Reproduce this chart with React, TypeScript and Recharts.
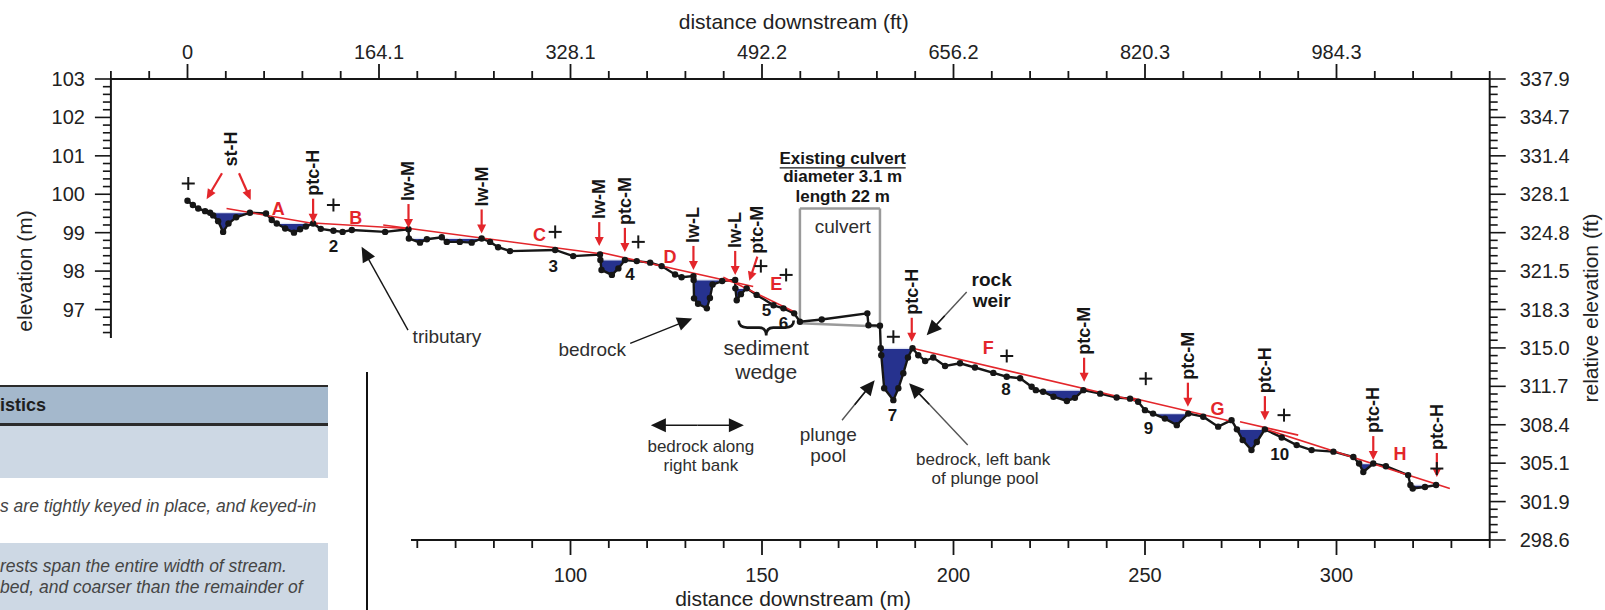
import React from 'react';
import { ComposedChart, XAxis, YAxis, Area, Line, ReferenceLine, ReferenceDot } from 'recharts';

const FONT = '"Liberation Sans", Arial, Helvetica, sans-serif';
const RED = '#e3262b';
const INK = '#161616';
const TXT = '#2e2e2e';

// bed survey points: distance downstream (m) and bed elevation (m)
const profileX = [
  0, 1.4, 2.8, 4.6, 5.9, 6.7, 8.0, 9.3, 10.7, 12.7,
  16.3, 20.5, 22.0, 23.3, 25.5, 27.8, 29.4, 30.9, 32.8, 34.8,
  38.1, 40.5, 42.9, 51.6, 57.7, 57.8, 60.7, 62.5, 66.4, 67.7,
  71.1, 74.2, 76.8, 79.0, 81.1, 84.2, 96.0, 100.7, 107.7, 107.8,
  108.1, 110.8, 112.5, 114.2, 117.3, 120.8, 123.8, 127.3, 129.0, 132.1,
  132.15, 132.25, 133.3, 135.6, 136.4, 137.1, 139.6, 143.0, 143.05, 143.4,
  144.5, 146.0, 148.6, 153.0, 155.6, 158.4, 159.9, 165.6, 177.5, 177.8,
  180.8, 181.0, 181.15, 181.9, 184.3, 185.6, 186.9, 188.1, 189.3, 190.8,
  192.6, 194.7, 197.8, 201.7, 205.6, 210.4, 213.9, 217.4, 220.4, 221.5,
  223.4, 226.1, 229.6, 231.7, 233.9, 238.3, 242.6, 246.1, 248.2, 250.0,
  252.1, 255.2, 258.3, 261.3, 265.2, 269.1, 272.6, 274.0, 275.5, 277.8,
  279.2, 281.3, 285.7, 289.6, 293.5, 299.2, 304.4, 305.9, 307.0, 309.6,
  312.9, 318.7, 319.3, 319.9, 323.1, 326.0,
];
const profileY = [
  99.83, 99.72, 99.63, 99.56, 99.52, 99.45, 99.30, 99.02, 99.24, 99.40,
  99.52, 99.50, 99.33, 99.24, 99.11, 99.00, 99.09, 99.16, 99.24, 99.10,
  99.05, 99.02, 99.07, 99.02, 99.09, 98.85, 98.74, 98.83, 98.88, 98.76,
  98.76, 98.74, 98.85, 98.76, 98.62, 98.52, 98.55, 98.39, 98.43, 98.29,
  98.03, 97.90, 98.07, 98.29, 98.26, 98.22, 98.13, 97.91, 97.84, 97.87,
  97.77, 97.29, 97.15, 97.03, 97.30, 97.65, 97.74, 97.77, 97.55, 97.24,
  97.40, 97.55, 97.38, 97.11, 97.03, 96.90, 96.68, 96.74, 96.90, 96.59,
  96.58, 95.99, 95.81, 94.95, 94.64, 94.95, 95.34, 95.75, 95.99, 95.81,
  95.66, 95.75, 95.53, 95.60, 95.49, 95.35, 95.25, 95.21, 94.99, 94.90,
  94.86, 94.73, 94.62, 94.70, 94.90, 94.81, 94.71, 94.68, 94.60, 94.38,
  94.29, 94.16, 93.99, 94.29, 94.21, 93.95, 94.12, 93.88, 93.60, 93.34,
  93.55, 93.88, 93.67, 93.47, 93.34, 93.30, 93.16, 92.99, 92.77, 92.99,
  92.92, 92.69, 92.43, 92.34, 92.38, 92.43,
];

// residual pools: extent along the profile and water surface (m)
const poolStart = [5.9, 23.3, 57.8, 107.8, 132.15, 143.05, 181.0, 221.5, 252.1, 274.0, 305.9, 319.3];
const poolEnd = [16.3, 32.8, 76.8, 114.2, 143.0, 146.0, 189.3, 233.9, 261.3, 281.3, 309.6, 326.0];
const poolLevel = [99.52, 99.24, 98.85, 98.29, 97.77, 97.55, 95.99, 94.90, 94.29, 93.88, 92.99, 92.43];

// fitted slope segments (red)
const slopeX1 = [10.2, 32.8, 51.1, 107.7, 139.9, 189.3, 246.1, 274.8, 281.3];
const slopeY1 = [99.63, 99.25, 99.2, 98.49, 97.84, 95.99, 94.71, 94.08, 93.89];
const slopeX2 = [34.0, 58.4, 107.9, 147.7, 158.4, 248.7, 272.2, 290.0, 329.6];
const slopeY2 = [99.22, 99.1, 98.45, 97.6, 96.94, 94.6, 94.1, 93.73, 92.34];

const slopeLetter = ['A', 'B', 'C', 'D', 'E', 'F', 'G', 'H'];
const letterX = [23.7, 43.9, 91.9, 126.0, 153.7, 209.1, 268.9, 316.6];
const letterY = [99.61, 99.37, 98.94, 98.37, 97.66, 95.99, 94.4, 93.25];

// grade-control features (red arrows)
const featureLabel = ['ptc-H', 'lw-M', 'lw-M', 'lw-M', 'ptc-M', 'lw-L', 'lw-L', 'ptc-M', 'ptc-H', 'ptc-M', 'ptc-M', 'ptc-H', 'ptc-H', 'ptc-H'];
const featureX = [32.8, 57.7, 76.8, 107.5, 114.2, 132.1, 143.0, 146.7, 189.1, 234.1, 261.2, 281.3, 309.6, 326.2];
const featureY = [99.26, 99.12, 98.98, 98.65, 98.5, 98.03, 97.9, 97.75, 96.16, 95.12, 94.47, 94.12, 93.08, 92.64];
const featureLean = [0, 0, 0, 0, 0, 0, 0, 8, 0, 0, 0, 0, 0, 0];

const poolNumber = ['2', '3', '4', '5', '6', '7', '8', '9', '10'];
const poolNumX = [38.1, 95.5, 115.5, 151.2, 155.6, 184.1, 213.7, 250.9, 285.2];
const poolNumY = [98.65, 98.13, 97.92, 96.98, 96.64, 94.25, 94.92, 93.9, 93.23];

const plusX = [0.2, 38.1, 96.0, 117.7, 149.7, 156.3, 184.3, 213.9, 250.2, 286.3, 326.2];
const plusY = [100.28, 99.72, 99.02, 98.76, 98.13, 97.9, 96.29, 95.79, 95.2, 94.25, 92.86];

const ftDistanceLabels = ['0', '164.1', '328.1', '492.2', '656.2', '820.3', '984.3'];
const ftElevationLabels = ['298.6', '301.9', '305.1', '308.4', '311.7', '315.0', '318.3', '321.5', '324.8', '328.1', '331.4', '334.7', '337.9'];

// culvert outline (m)
const culvertLeft = 159.9;
const culvertRight = 180.8;
const culvertTop = 99.63;
const culvertInvertUp = 96.64;
const culvertInvertDown = 96.56;

const rows = profileX.map((x, i) => {
  const bed = profileY[i];
  const k = poolStart.findIndex((s, j) => x >= s - 1e-9 && x <= poolEnd[j] + 1e-9);
  return { x, bed, pool: k < 0 ? null : [Math.min(bed, poolLevel[k]), poolLevel[k]] };
});

const steps = (a: number, b: number, s: number) => {
  const out: number[] = [];
  for (let v = a; v <= b + 1e-9; v += s) out.push(Math.round(v * 10) / 10);
  return out;
};
const topTicks = steps(-20, 340, 10);
const bottomTicks = steps(60, 340, 10);
const leftTicks = steps(96.4, 103, 0.2);
const rightTicks = steps(91, 103, 0.2);
const isInt = (v: number) => Math.abs(v - Math.round(v)) < 1e-6;

const TopTick = ({ x, y, payload }: any) => {
  const v = payload.value;
  const major = v >= 0 && v <= 300 && v % 50 === 0;
  return (
    <g>
      <line x1={x} x2={x} y1={y} y2={y - (major ? 15 : 8)} stroke={INK} strokeWidth={1.8} />
      {major && (
        <text x={x} y={y - 27} textAnchor="middle" dominantBaseline="central" fontSize={20} fill="#222">
          {ftDistanceLabels[v / 50]}
        </text>
      )}
    </g>
  );
};

const BottomTick = ({ x, y, payload }: any) => {
  const v = payload.value;
  const major = v % 50 === 0;
  return (
    <g>
      <line x1={x} x2={x} y1={y} y2={y + (major ? 15 : 8)} stroke={INK} strokeWidth={1.8} />
      {major && v >= 100 && v <= 300 && (
        <text x={x} y={y + 35} textAnchor="middle" dominantBaseline="central" fontSize={20} fill="#222">
          {v}
        </text>
      )}
    </g>
  );
};

const LeftTick = ({ x, y, payload }: any) => {
  const v = payload.value;
  const major = isInt(v);
  return (
    <g>
      <line x1={x} x2={x - (major ? 16 : 8)} y1={y} y2={y} stroke={INK} strokeWidth={1.6} />
      {major && (
        <text x={x - 26} y={y} textAnchor="end" dominantBaseline="central" fontSize={20} fill="#222">
          {Math.round(v)}
        </text>
      )}
    </g>
  );
};

const RightTick = ({ x, y, payload }: any) => {
  const v = payload.value;
  const major = isInt(v);
  return (
    <g>
      <line x1={x} x2={x + (major ? 16 : 8)} y1={y} y2={y} stroke={INK} strokeWidth={1.6} />
      {major && (
        <text x={x + 30} y={y} textAnchor="start" dominantBaseline="central" fontSize={20} fill="#222">
          {ftElevationLabels[Math.round(v) - 91]}
        </text>
      )}
    </g>
  );
};

function Arrow({ x1, y1, x2, y2, color, width, len, half }: any) {
  const dx = x2 - x1;
  const dy = y2 - y1;
  const d = Math.hypot(dx, dy) || 1;
  const ux = dx / d;
  const uy = dy / d;
  const bx = x2 - ux * len;
  const by = y2 - uy * len;
  const pts = `${x2},${y2} ${bx - uy * half},${by + ux * half} ${bx + uy * half},${by - ux * half}`;
  return (
    <g>
      <line x1={x1} y1={y1} x2={bx + ux * 2} y2={by + uy * 2} stroke={color} strokeWidth={width} />
      <polygon points={pts} fill={color} />
    </g>
  );
}

const featureShape = (label: string, lean: number) => ({ cx = 0, cy = 0 }: any) => {
  const topY = cy - 24;
  const topX = cx + lean;
  return (
    <g>
      <Arrow x1={topX} y1={topY} x2={cx} y2={cy} color={RED} width={2.2} len={9} half={4.5} />
      <text transform={`translate(${topX},${topY - 3}) rotate(-90)`} textAnchor="start" dominantBaseline="central"
        fontSize={18} fontWeight="bold" fill={INK}>{label}</text>
    </g>
  );
};

const stShape = ({ cx = 0, cy = 0 }: any) => (
  <g>
    <text transform={`translate(${cx},${cy}) rotate(-90)`} textAnchor="start" dominantBaseline="central"
      fontSize={18} fontWeight="bold" fill={INK}>st-H</text>
    <Arrow x1={cx - 8.7} y1={cy + 6.6} x2={cx - 24.1} y2={cy + 32.6} color={RED} width={2.2} len={10} half={4.5} />
    <Arrow x1={cx + 8.3} y1={cy + 6.6} x2={cx + 20} y2={cy + 33.3} color={RED} width={2.2} len={10} half={4.5} />
  </g>
);

const textShape = (t: string, color: string, size: number) => ({ cx = 0, cy = 0 }: any) => (
  <text x={cx} y={cy} textAnchor="middle" dominantBaseline="central" fontSize={size} fontWeight="bold" fill={color}>{t}</text>
);

const plusShape = ({ cx = 0, cy = 0 }: any) => (
  <g stroke={INK} strokeWidth={2}>
    <line x1={cx - 6.5} x2={cx + 6.5} y1={cy} y2={cy} />
    <line x1={cx} x2={cx} y1={cy - 6.5} y2={cy + 6.5} />
  </g>
);

const ANN = { fontSize: 19, fill: TXT } as const;
const GREY_LINE = '#555';

const tributaryShape = ({ cx = 0, cy = 0 }: any) => (
  <g>
    <Arrow x1={cx + 46.4} y1={cy + 83.3} x2={cx} y2={cy} color={INK} width={1.4} len={15} half={7} />
    <text x={cx + 51} y={cy + 90} dominantBaseline="central" {...ANN}>tributary</text>
  </g>
);

const bedrockShape = ({ cx = 0, cy = 0 }: any) => (
  <g>
    <Arrow x1={cx - 62} y1={cy + 25} x2={cx} y2={cy} color={INK} width={1.4} len={15} half={7} />
    <text x={cx - 100} y={cy + 30.6} textAnchor="middle" dominantBaseline="central" {...ANN}>bedrock</text>
  </g>
);

const wedgeShape = ({ cx = 0, cy = 0 }: any) => (
  <g>
    <path d={`M ${cx - 27.5} ${cy - 15} Q ${cx - 27.5} ${cy - 8} ${cx - 19} ${cy - 8} L ${cx - 7} ${cy - 8} Q ${cx} ${cy - 8} ${cx} ${cy} Q ${cx} ${cy - 8} ${cx + 7} ${cy - 8} L ${cx + 19} ${cy - 8} Q ${cx + 27.5} ${cy - 8} ${cx + 27.5} ${cy - 15}`}
      fill="none" stroke={INK} strokeWidth={2.6} />
    <text x={cx} y={cy + 12.3} textAnchor="middle" dominantBaseline="central" fontSize={21} fill={TXT}>sediment</text>
    <text x={cx} y={cy + 35.6} textAnchor="middle" dominantBaseline="central" fontSize={21} fill={TXT}>wedge</text>
  </g>
);

const alongShape = ({ cx = 0, cy = 0 }: any) => (
  <g>
    <Arrow x1={cx} y1={cy} x2={cx - 46.5} y2={cy} color={INK} width={1.5} len={15} half={7} />
    <Arrow x1={cx} y1={cy} x2={cx + 46.5} y2={cy} color={INK} width={1.5} len={15} half={7} />
    <text x={cx + 3.5} y={cy + 21.7} textAnchor="middle" dominantBaseline="central" fontSize={17} fill={TXT}>bedrock along</text>
    <text x={cx + 3.5} y={cy + 40} textAnchor="middle" dominantBaseline="central" fontSize={17} fill={TXT}>right bank</text>
  </g>
);

const plungeShape = ({ cx = 0, cy = 0 }: any) => (
  <g>
    <line x1={cx - 32.7} y1={cy + 40} x2={cx - 6} y2={cy + 7} stroke={GREY_LINE} strokeWidth={1.4} />
    <Arrow x1={cx - 20} y1={cy + 24.5} x2={cx} y2={cy} color={INK} width={1.4} len={15} half={7} />
    <text x={cx - 46.5} y={cy + 54} textAnchor="middle" dominantBaseline="central" {...ANN}>plunge</text>
    <text x={cx - 46.5} y={cy + 75} textAnchor="middle" dominantBaseline="central" {...ANN}>pool</text>
  </g>
);

const leftBankShape = ({ cx = 0, cy = 0 }: any) => (
  <g>
    <line x1={cx + 58.6} y1={cy + 61.7} x2={cx + 6} y2={cy + 6} stroke={GREY_LINE} strokeWidth={1.4} />
    <Arrow x1={cx + 20} y1={cy + 21} x2={cx} y2={cy} color={INK} width={1.4} len={15} half={7} />
    <text x={cx + 74.1} y={cy + 76.7} textAnchor="middle" dominantBaseline="central" fontSize={17} fill={TXT}>bedrock, left bank</text>
    <text x={cx + 75.9} y={cy + 95} textAnchor="middle" dominantBaseline="central" fontSize={17} fill={TXT}>of plunge pool</text>
  </g>
);

const weirShape = ({ cx = 0, cy = 0 }: any) => (
  <g>
    <line x1={cx + 40} y1={cy - 43.3} x2={cx + 6} y2={cy - 6.5} stroke={GREY_LINE} strokeWidth={1.4} />
    <Arrow x1={cx + 18} y1={cy - 19.5} x2={cx} y2={cy} color={INK} width={1.4} len={15} half={7} />
    <text x={cx + 65} y={cy - 55.7} textAnchor="middle" dominantBaseline="central" fontSize={19} fontWeight="bold" fill={INK}>rock</text>
    <text x={cx + 65} y={cy - 35} textAnchor="middle" dominantBaseline="central" fontSize={19} fontWeight="bold" fill={INK}>weir</text>
  </g>
);

const culvertTextShape = ({ cx = 0, cy = 0 }: any) => (
  <g>
    <text x={cx} y={cy} textAnchor="middle" dominantBaseline="central" fontSize={17} fontWeight="bold" fill={INK}>Existing culvert</text>
    <line x1={cx - 63} x2={cx + 63} y1={cy + 9.5} y2={cy + 9.5} stroke={INK} strokeWidth={1.4} />
    <text x={cx} y={cy + 18.4} textAnchor="middle" dominantBaseline="central" fontSize={17} fontWeight="bold" fill={INK}>diameter 3.1 m</text>
    <text x={cx} y={cy + 38.4} textAnchor="middle" dominantBaseline="central" fontSize={17} fontWeight="bold" fill={INK}>length 22 m</text>
    <text x={cx} y={cy + 68.4} textAnchor="middle" dominantBaseline="central" fontSize={19} fill={TXT}>culvert</text>
  </g>
);

const seg = (x1: number, y1: number, x2: number, y2: number) => [{ x: x1, y: y1 }, { x: x2, y: y2 }];
const AX = { xAxisId: 'm', yAxisId: 'm' } as const;

function TablePatch() {
  const cell: React.CSSProperties = { position: 'absolute', whiteSpace: 'nowrap', transform: 'translateY(-50%)', lineHeight: 1 };
  return (
    <div style={{ position: 'absolute', left: 0, top: 338, width: 411, height: 272, background: '#fff', overflow: 'hidden' }}>
      <div style={{ position: 'absolute', left: 0, top: 47, width: 328, height: 41, boxSizing: 'border-box', background: '#a4b8cc', borderTop: '2px solid #2b2b2b', borderBottom: '3px solid #2b2b2b' }} />
      <div style={{ position: 'absolute', left: 0, top: 88, width: 328, height: 52, background: '#cdd8e4' }} />
      <div style={{ position: 'absolute', left: 0, top: 205, width: 328, height: 67, background: '#cdd8e4' }} />
      <div style={{ position: 'absolute', left: 366, top: 34, width: 2, height: 238, background: '#111' }} />
      <div style={{ ...cell, left: 0, top: 67, fontSize: 18, fontWeight: 'bold', color: '#1f1f1f' }}>istics</div>
      <div style={{ ...cell, left: 0, top: 169, fontSize: 17.5, fontStyle: 'italic', color: '#454545' }}>s are tightly keyed in place, and keyed-in</div>
      <div style={{ ...cell, left: 0, top: 229, fontSize: 17.5, fontStyle: 'italic', color: '#454545' }}>rests span the entire width of stream.</div>
      <div style={{ ...cell, left: 0, top: 250, fontSize: 17.5, fontStyle: 'italic', color: '#454545' }}>bed, and coarser than the remainder of</div>
    </div>
  );
}

export default function App() {
  return (
    <div style={{ position: 'absolute', left: 0, top: 0, width: 1605, height: 610, background: '#fff', fontFamily: FONT, overflow: 'hidden' }}>
      <ComposedChart width={1605} height={610} data={rows} margin={{ top: 0, right: 0, bottom: 0, left: 0 }}>
        <XAxis xAxisId="m" dataKey="x" type="number" domain={[-20, 340]} allowDataOverflow ticks={bottomTicks} interval={0}
          height={70} tickSize={0} tickMargin={0} tickLine={false} axisLine={{ stroke: INK, strokeWidth: 2 }} tick={BottomTick} />
        <XAxis xAxisId="ft" dataKey="x" orientation="top" type="number" domain={[-20, 340]} allowDataOverflow ticks={topTicks} interval={0}
          height={79} tickSize={0} tickMargin={0} tickLine={false} axisLine={{ stroke: INK, strokeWidth: 2 }} tick={TopTick} />
        <YAxis yAxisId="m" type="number" domain={[91, 103]} allowDataOverflow ticks={leftTicks} interval={0}
          width={110.9} tickSize={0} tickMargin={0} tickLine={false} axisLine={{ stroke: INK, strokeWidth: 2 }} tick={LeftTick} />
        <YAxis yAxisId="ft" orientation="right" type="number" domain={[91, 103]} allowDataOverflow ticks={rightTicks} interval={0}
          width={115.3} tickSize={0} tickMargin={0} tickLine={false} axisLine={{ stroke: INK, strokeWidth: 2 }} tick={RightTick} />

        {/* culvert outline */}
        <ReferenceLine {...AX} segment={seg(culvertLeft, culvertTop, culvertRight, culvertTop)} stroke="#9a9a9a" strokeWidth={2.5} />
        <ReferenceLine {...AX} segment={seg(culvertLeft, culvertInvertUp, culvertLeft, culvertTop)} stroke="#9a9a9a" strokeWidth={2.5} />
        <ReferenceLine {...AX} segment={seg(culvertRight, culvertInvertDown, culvertRight, culvertTop)} stroke="#9a9a9a" strokeWidth={2.5} />
        <ReferenceLine {...AX} segment={seg(culvertLeft, culvertInvertUp, culvertRight, culvertInvertDown)} stroke="#9a9a9a" strokeWidth={2.5} />

        <Area {...AX} dataKey="pool" type="linear" fill="#26328e" fillOpacity={1} stroke="#dfe4f4" strokeWidth={1.2}
          connectNulls={false} dot={false} activeDot={false} isAnimationActive={false} />
        <Line {...AX} dataKey="bed" type="linear" stroke={INK} strokeWidth={2.4}
          dot={{ r: 3.2, fill: INK, stroke: INK, strokeWidth: 0 }} activeDot={false} isAnimationActive={false} />

        {slopeX1.map((x1, i) => (
          <ReferenceLine key={`s${i}`} {...AX} segment={seg(x1, slopeY1[i], slopeX2[i], slopeY2[i])} stroke={RED} strokeWidth={1.6} />
        ))}

        {featureLabel.map((lab, i) => (
          <ReferenceDot key={`f${i}`} {...AX} x={featureX[i]} y={featureY[i]} r={1} shape={featureShape(lab, featureLean[i])} />
        ))}
        <ReferenceDot {...AX} x={11.28} y={100.72} r={1} shape={stShape} />

        {slopeLetter.map((t, i) => (
          <ReferenceDot key={`l${i}`} {...AX} x={letterX[i]} y={letterY[i]} r={1} shape={textShape(t, RED, 18)} />
        ))}
        {poolNumber.map((t, i) => (
          <ReferenceDot key={`n${i}`} {...AX} x={poolNumX[i]} y={poolNumY[i]} r={1} shape={textShape(t, INK, 17)} />
        ))}
        {plusX.map((x, i) => (
          <ReferenceDot key={`p${i}`} {...AX} x={x} y={plusY[i]} r={1} shape={plusShape} />
        ))}

        <ReferenceDot {...AX} x={45.46} y={98.633} r={1} shape={tributaryShape} />
        <ReferenceDot {...AX} x={131.78} y={96.768} r={1} shape={bedrockShape} />
        <ReferenceDot {...AX} x={151.1} y={96.32} r={1} shape={wedgeShape} />
        <ReferenceDot {...AX} x={133.12} y={93.99} r={1} shape={alongShape} />
        <ReferenceDot {...AX} x={179.43} y={95.16} r={1} shape={plungeShape} />
        <ReferenceDot {...AX} x={188.41} y={95.08} r={1} shape={leftBankShape} />
        <ReferenceDot {...AX} x={193.0} y={96.33} r={1} shape={weirShape} />
        <ReferenceDot {...AX} x={171.07} y={100.935} r={1} shape={culvertTextShape} />
      </ComposedChart>

      <svg width={1605} height={610} style={{ position: 'absolute', left: 0, top: 0, pointerEvents: 'none' }}>
        <text x={793.7} y={21.7} textAnchor="middle" dominantBaseline="central" fontSize={21} fill="#222">distance downstream (ft)</text>
        <text x={793} y={598} textAnchor="middle" dominantBaseline="central" fontSize={21} fill="#222">distance downstream (m)</text>
        <text transform="translate(24,271) rotate(-90)" textAnchor="middle" dominantBaseline="central" fontSize={21} fill="#222">elevation (m)</text>
        <text transform="translate(1590,308) rotate(-90)" textAnchor="middle" dominantBaseline="central" fontSize={21} fill="#222">relative elevation (ft)</text>
      </svg>

      <TablePatch />
    </div>
  );
}
